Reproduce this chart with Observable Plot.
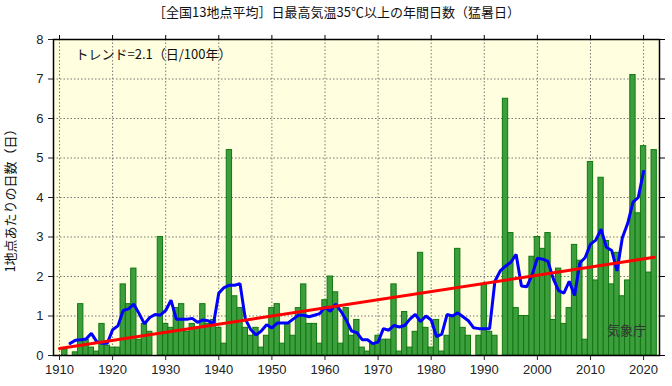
<!DOCTYPE html>
<html>
<head>
<meta charset="utf-8">
<script src="https://cdn.jsdelivr.net/npm/d3@7"></script>
<script src="https://cdn.jsdelivr.net/npm/@observablehq/plot@0.6"></script>
<style>
  html, body { margin: 0; padding: 0; background: #ffffff; }
  #chart svg { display: block; }
</style>
</head>
<body>
<div id="chart"></div>
<script>
// ---- Data ----
const titleText = "［全国13地点平均］日最高気温35℃以上の年間日数（猛暑日）";
const yLabelText = "1地点あたりの日数（日）";
const trendText = "トレンド=2.1（日/100年）";
const sourceText = "気象庁";

const firstYear = 1910;
const lastYear = 2022;
const years = d3.range(firstYear, lastYear + 1);

// annual number of days >= 35°C (13-station mean), 1910..2022
const days = [
  0.0, 0.15, 0.0, 0.08, 1.3, 0.4, 0.2, 0.1, 0.8, 0.25,   // 1910-1919
  0.2, 0.2, 1.8, 1.3, 2.2, 0.4, 0.8, 0.6, 0.0, 3.0,      // 1920-1929
  0.8, 0.7, 1.2, 1.3, 0.6, 0.8, 0.7, 1.3, 0.8, 0.9,      // 1930-1939
  0.7, 0.3, 5.2, 1.5, 1.2, 0.7, 0.5, 0.7, 0.2, 0.5,      // 1940-1949
  1.2, 1.3, 0.3, 0.8, 0.5, 1.2, 1.8, 0.8, 0.8, 0.3,      // 1950-1959
  1.4, 2.0, 1.6, 0.3, 1.2, 0.5, 0.9, 0.2, 0.1, 0.3,      // 1960-1969
  0.5, 0.4, 0.4, 1.8, 0.1, 1.1, 0.2, 0.6, 2.6, 0.7,      // 1970-1979
  0.2, 0.9, 0.1, 0.5, 1.0, 2.7, 0.7, 0.5, 0.0, 0.5,      // 1980-1989
  1.8, 0.6, 0.5, 0.0, 6.5, 3.1, 1.2, 1.0, 1.0, 2.5,      // 1990-1999
  3.0, 2.7, 3.1, 0.9, 2.2, 0.8, 1.2, 2.8, 2.4, 0.4,      // 2000-2009
  4.9, 1.9, 4.5, 2.9, 1.8, 2.6, 1.5, 1.9, 7.1, 3.6,      // 2010-2019
  5.3, 2.1, 5.2                                          // 2020-2022
];

const xTicks = [1910, 1920, 1930, 1940, 1950, 1960, 1970, 1980, 1990, 2000, 2010, 2020];
const yTicks = [0, 1, 2, 3, 4, 5, 6, 7, 8];
const yGrid = [1, 2, 3, 4, 5, 6, 7];

const data = years.map((year, i) => ({year, value: days[i]}));

// ---- Styling ----
const jp = "'Noto Sans CJK JP', 'Noto Sans', sans-serif";
const num = "'Liberation Sans', Arial, sans-serif";

const chart = Plot.plot({
  width: 672,
  height: 386,
  marginLeft: 53,
  marginRight: 13,
  marginTop: 39,
  marginBottom: 31,
  style: {background: "#ffffff", overflow: "visible"},
  x: {domain: [1908.87, 2023.0]},
  y: {domain: [0, 8]},
  marks: [
    Plot.frame({fill: "#ffffe0", stroke: null}),
    Plot.gridX(xTicks, {stroke: "#777", strokeOpacity: 1, strokeDasharray: "1.5,2", strokeWidth: 1}),
    Plot.gridY(yGrid, {stroke: "#777", strokeOpacity: 1, strokeDasharray: "1.5,2", strokeWidth: 1}),
    Plot.rectY(data, {
      x1: d => d.year - 0.5,
      x2: d => d.year + 0.5,
      y: "value",
      fill: "#3d9e3d",
      stroke: "#107810",
      strokeWidth: 1
    }),
    Plot.lineY(data, Plot.windowY({k: 5, anchor: "middle", strict: true}, {
      x: "year", y: "value", stroke: "#0000ff", strokeWidth: 3, strokeLinejoin: "miter"
    })),
    Plot.linearRegressionY(data, {x: "year", y: "value", stroke: "#ff0000", strokeWidth: 3, ci: 0}),
    Plot.frame({stroke: "#000", strokeWidth: 1.5}),
    Plot.axisX({anchor: "bottom", ticks: xTicks, tickSize: 5, tickPadding: 4, tickFormat: d => String(d),
      label: null, fontSize: 13, fontFamily: num, color: "#222"}),
    Plot.axisX({anchor: "top", ticks: xTicks, tickSize: 5, tickFormat: () => "", label: null}),
    Plot.axisY({anchor: "left", ticks: yTicks, tickSize: 5, tickPadding: 5, tickFormat: d => String(d),
      label: null, fontSize: 13, fontFamily: num, color: "#222"}),
    Plot.axisY({anchor: "right", ticks: yTicks, tickSize: 5, tickFormat: () => "", label: null}),
    Plot.text([titleText], {frameAnchor: "top-left", dx: 283, dy: -27, textAnchor: "middle",
      lineAnchor: "middle", fontSize: 13, fontFamily: jp, fill: "#111"}),
    Plot.text([yLabelText], {frameAnchor: "left", dx: -43, rotate: -90, textAnchor: "middle",
      lineAnchor: "middle", fontSize: 13, fontFamily: jp, fill: "#111"}),
    Plot.text([trendText], {frameAnchor: "top-left", dx: 22, dy: 15, textAnchor: "start",
      lineAnchor: "middle", fontSize: 13, fontFamily: jp, fill: "#111"}),
    Plot.text([sourceText], {frameAnchor: "bottom-right", dx: -33, dy: -25, textAnchor: "middle",
      lineAnchor: "middle", fontSize: 13, fontFamily: jp, fill: "#333"})
  ]
});

document.getElementById("chart").appendChild(chart);
</script>
</body>
</html>
